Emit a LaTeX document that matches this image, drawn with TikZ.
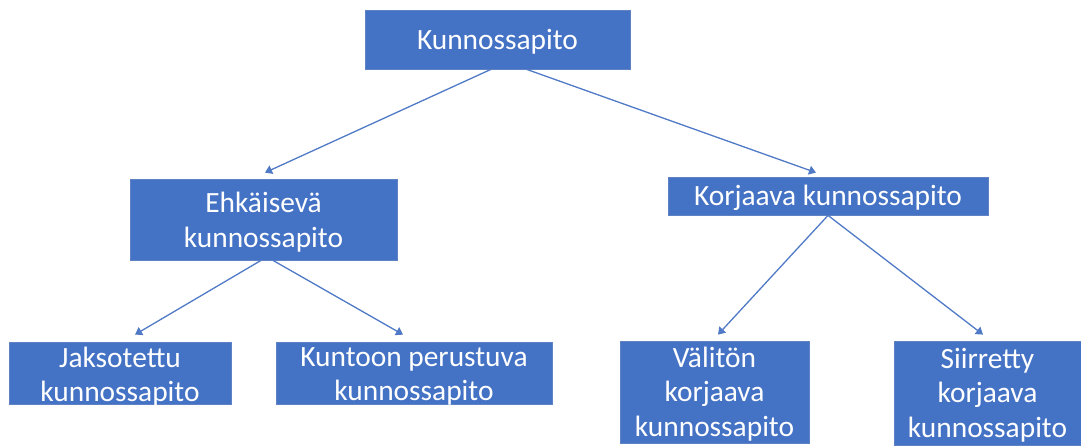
\documentclass[tikz,border=0pt]{standalone}
\usepackage{fontspec}
\setmainfont{Carlito}
\usetikzlibrary{calc,arrows.meta}
\definecolor{boxfill}{HTML}{4472C4}
\definecolor{boxline}{HTML}{5E82C4}
\definecolor{linecol}{HTML}{5079C6}
\tikzset{
  box/.style={draw=boxline, line width=0.8pt, fill=boxfill, inner sep=0pt},
  txt/.style={text=white, align=center, inner sep=0pt, font=\fontsize{29.4}{34.5}\selectfont},
  conn/.style={draw=linecol, line width=1.3pt, -{Triangle[width=9pt,length=7pt]}}
}
\begin{document}
\begin{tikzpicture}[x=1pt,y=-1pt]
\useasboundingbox (0,0) rectangle (1081,445);
\clip (0,0) rectangle (1081,445);
% boxes
\node[box, minimum width=265pt, minimum height=59pt] (top) at (497.5,39.5) {};
\node[box, minimum width=267pt, minimum height=81pt] (ehk) at (263.5,219.5) {};
\node[box, minimum width=320pt, minimum height=38pt] (kor) at (828,196) {};
\node[box, minimum width=222pt, minimum height=62pt] (jak) at (120,373) {};
\node[box, minimum width=276pt, minimum height=62pt] (kun) at (414,373) {};
\node[box, minimum width=189pt, minimum height=102pt] (val) at (714.5,392) {};
\node[box, minimum width=187pt, minimum height=104pt] (sii) at (987.5,393) {};
% texts
\node[txt] (topT) at (497.5,42) {Kunnossapito};
\node[txt] (ehkT) at (263.5,222) {Ehkäisevä\\kunnossapito};
\node[txt] (korT) at (828,197.5) {Korjaava kunnossapito};
\node[txt] (jakT) at (120,376.5) {Jaksotettu\\kunnossapito};
\node[txt] (kunT) at (414,376.5) {Kuntoon perustuva\\kunnossapito};
\node[txt] (valT) at (714.5,394) {Välitön\\korjaava\\kunnossapito};
\node[txt] (siiT) at (987.5,395) {Siirretty\\korjaava\\kunnossapito};
% connectors
\coordinate (topL) at ($(top.south west)!0.475!(top.south east)$);
\coordinate (topR) at ($(top.south west)!0.61!(top.south east)$);
\draw[conn] (topL) -- ($(ehk.north)+(1.5,-6)$);
\draw[conn] (topR) -- ($(kor.north)+(-12,-4)$);
\draw[conn] ($(ehk.south)+(-2.5,0)$) -- ($(jak.north)+(15,-7)$);
\draw[conn] ($(ehk.south)+(9.5,0)$) -- ($(kun.north)+(-11,-7)$);
\draw[conn] (kor.south) -- ($(val.north)+(3.5,-6)$);
\draw[conn] (kor.south) -- ($(sii.north)+(-4.5,-6)$);
\end{tikzpicture}
\end{document}
